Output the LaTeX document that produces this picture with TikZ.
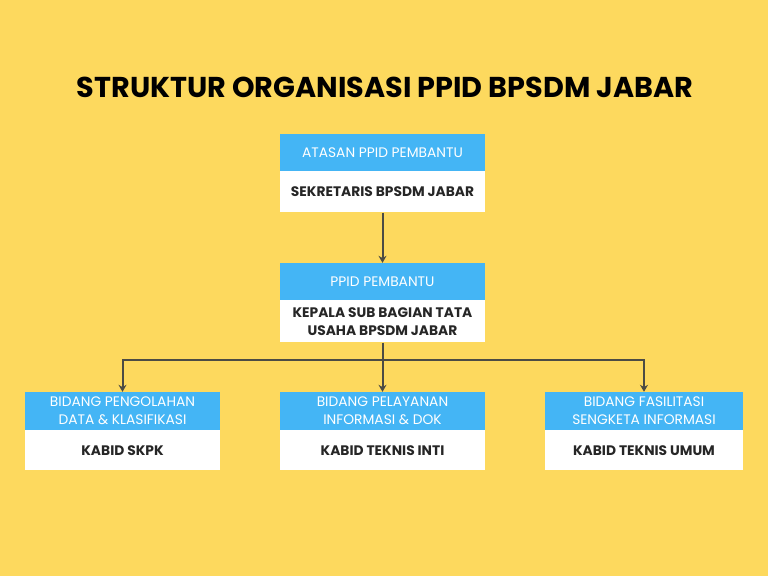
\documentclass[tikz,border=0pt]{standalone}
\usepackage{fontspec}
\setmainfont{Poppins}
\usetikzlibrary{arrows.meta,positioning}
\definecolor{bgyellow}{HTML}{FDD95E}
\definecolor{headblue}{HTML}{44B5F5}
\definecolor{linegray}{HTML}{4C4C44}
\definecolor{textdark}{HTML}{262626}
\tikzset{
  head/.style = {fill = headblue, text = white, minimum height = 37pt, inner sep = 0pt,
                 align = center, font = \fontsize{13.8}{18}\selectfont},
  body/.style = {fill = white, text = textdark, minimum height = 41pt, inner sep = 0pt,
                 align = center, font = \bfseries\fontsize{13.8}{17.5}\selectfont},
  link/.style = {draw = linegray, line width = 2pt},
  tip/.style = {-{Stealth[length = 7pt, width = 8pt]}}
}
\begin{document}
\begin{tikzpicture}[x = 1pt, y = -1pt]
            \fill[bgyellow] (0,0) rectangle (768,576);
            \useasboundingbox (0,0) rectangle (768,576);
            \node[font = \bfseries\fontsize{28.7}{32}\selectfont] (title) at (385,87) {STRUKTUR ORGANISASI PPID BPSDM JABAR};
            % atasan
            \node[head, minimum width = 205pt] (atasanH) at (382.5,152.5) {ATASAN PPID PEMBANTU};
            \node[body, minimum width = 205pt, below = 0pt of atasanH] (atasan) {SEKRETARIS BPSDM JABAR};
            % ppid pembantu
            \node[head, minimum width = 205pt] (ppidH) at (382.5,281.5) {PPID PEMBANTU};
            \node[body, minimum width = 205pt, minimum height = 42pt, below = 0pt of ppidH] (ppid) {KEPALA SUB BAGIAN TATA\\USAHA BPSDM JABAR};
            % bidang
            \node[head, minimum width = 195pt, minimum height = 38pt] (olahH) at (122.5,411) {BIDANG PENGOLAHAN\\DATA \& KLASIFIKASI};
            \node[body, minimum width = 195pt, minimum height = 40pt, below = 0pt of olahH] (olah) {KABID SKPK};
            \node[head, minimum width = 205pt, minimum height = 38pt] (layanH) at (382.5,411) {BIDANG PELAYANAN\\INFORMASI \& DOK};
            \node[body, minimum width = 205pt, minimum height = 40pt, below = 0pt of layanH] (layan) {KABID TEKNIS INTI};
            \node[head, minimum width = 198pt, minimum height = 38pt] (fasilH) at (644,411) {BIDANG FASILITASI\\SENGKETA INFORMASI};
            \node[body, minimum width = 198pt, minimum height = 40pt, below = 0pt of fasilH] (fasil) {KABID TEKNIS UMUM};
            % garis
            \coordinate (split) at ([yshift = -17pt]ppid.south);
            \draw[link, tip] (atasan.south) -- (ppidH.north);
            \draw[link] (ppid.south) -- (split);
            \draw[link, tip] (split) -| (olahH.north);
            \draw[link, tip] (split) -- (layanH.north);
            \draw[link, tip] (split) -| (fasilH.north);
        \end{tikzpicture}
\end{document}
